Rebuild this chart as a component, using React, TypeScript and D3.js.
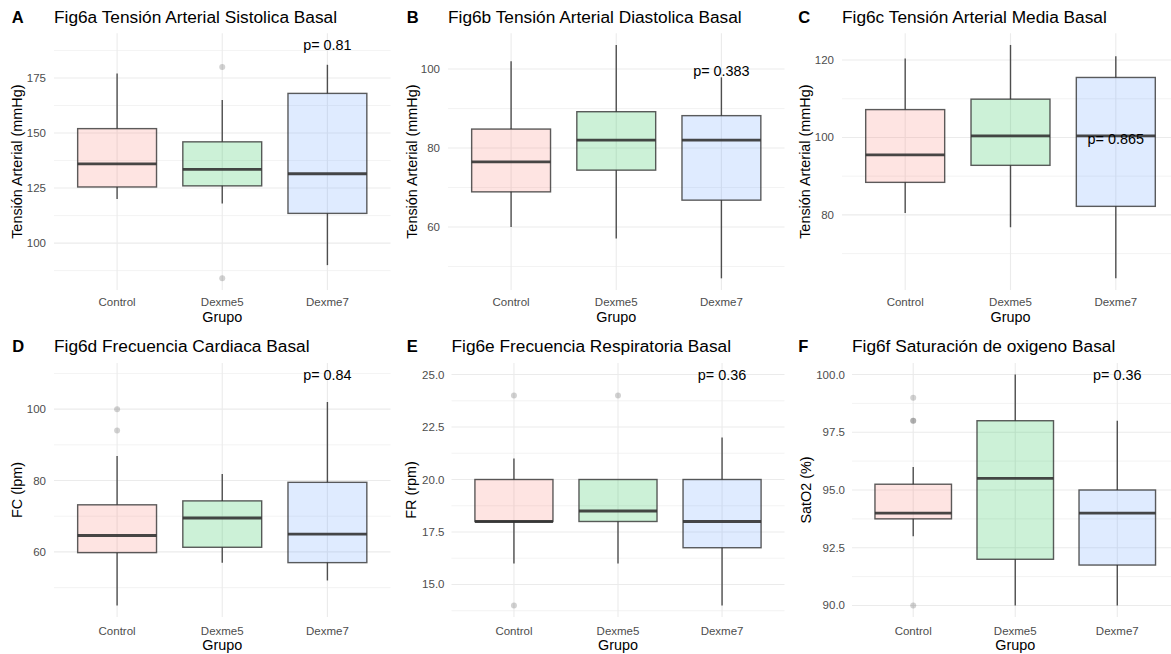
import React, { useEffect } from "react";
import * as d3 from "d3";

// Groups and their hues (ggplot default 3-colour palette)
const groups = ["Control", "Dexme5", "Dexme7"];
const hues = ["#F8766D", "#00BA38", "#619CFF"];

const tags = ["A", "B", "C", "D", "E", "F"];
const titles = [
  "Fig6a Tensión Arterial Sistolica Basal",
  "Fig6b Tensión Arterial Diastolica Basal",
  "Fig6c Tensión Arterial Media Basal",
  "Fig6d Frecuencia Cardiaca Basal",
  "Fig6e Frecuencia Respiratoria Basal",
  "Fig6f Saturación de oxigeno Basal",
];
const yTitles = [
  "Tensión Arterial (mmHg)",
  "Tensión Arterial (mmHg)",
  "Tensión Arterial (mmHg)",
  "FC (lpm)",
  "FR (rpm)",
  "SatO2 (%)",
];
const xTitle = "Grupo";

// Kruskal-Wallis p-values and where they sit on each y scale
const pLabels = ["p= 0.81", "p= 0.383", "p= 0.865", "p= 0.84", "p= 0.36", "p= 0.36"];
const pLabelY = [190, 99.6, 99.7, 109.7, 25, 100];

// Box summaries per group: [lower whisker, Q1, median, Q3, upper whisker]
const statsA = [[120, 125.5, 136, 152, 177], [118, 126, 133.5, 146, 165], [90, 113.5, 131.5, 168, 181]];
const statsB = [[60, 68.9, 76.5, 84.8, 102], [57.1, 74.4, 82, 89.2, 106.1], [47, 66.8, 82, 88.2, 97.9]];
const statsC = [[80.5, 88.4, 95.5, 107.2, 120.4], [76.8, 92.8, 100.4, 109.9, 123.9], [63.6, 82.2, 100.4, 115.5, 121]];
const statsD = [[45, 59.8, 64.6, 73.2, 86.9], [57, 61.3, 69.5, 74.3, 81.8], [52, 57, 65, 79.5, 102]];
const statsE = [[16, 18, 18, 20, 21], [16, 18, 18.5, 20, 20], [14, 16.75, 18, 20, 22]];
const statsF = [[93, 93.75, 94, 95.25, 96], [90, 92, 95.5, 98, 100], [90, 91.75, 94, 95, 98]];

// Outlying observations per group
const outliersA = [[], [180, 84], []];
const outliersB = [[], [], []];
const outliersC = [[], [], []];
const outliersD = [[100, 94], [], []];
const outliersE = [[24, 14], [24], []];
const outliersF = [[99, 98, 98, 90], [], []];

// Y-axis tick labels
const ticksA = ["100", "125", "150", "175"];
const ticksB = ["60", "80", "100"];
const ticksC = ["80", "100", "120"];
const ticksD = ["60", "80", "100"];
const ticksE = ["15.0", "17.5", "20.0", "22.5", "25.0"];
const ticksF = ["90.0", "92.5", "95.0", "97.5", "100.0"];

const panelStats = [statsA, statsB, statsC, statsD, statsE, statsF];
const panelOutliers = [outliersA, outliersB, outliersC, outliersD, outliersE, outliersF];
const panelTicks = [ticksA, ticksB, ticksC, ticksD, ticksE, ticksF];

// Panel geometry
const rows = [
  { y0: 33.3, y1: 290, titleBase: 23, tickBase: 306, xTitleBase: 322 },
  { y0: 363, y1: 617, titleBase: 351.5, tickBase: 634.5, xTitleBase: 650 },
];
const cols = [
  { x0: 54, x1: 390.5, tagX: 11.7, yTitleX: 17.3, gap: 8 },
  { x0: 448, x1: 784.5, tagX: 406.7, yTitleX: 411.7, gap: 8 },
  { x0: 842, x1: 1179, tagX: 798.3, yTitleX: 805, gap: 8 },
  { x0: 54, x1: 390.5, tagX: 12.3, yTitleX: 17.3, gap: 8 },
  { x0: 451.5, x1: 784.5, tagX: 406.7, yTitleX: 410.7, gap: 7 },
  { x0: 852, x1: 1178.5, tagX: 798.3, yTitleX: 806, gap: 7 },
];

const FONT = "'Liberation Sans', Arial, Helvetica, sans-serif";
const GRID = "#ebebeb";
const INK = "#333333";

function Panel({ i }: { i: number }) {
  const row = rows[Math.floor(i / 3)];
  const col = cols[i];
  const stats = panelStats[i];
  const outs = panelOutliers[i];
  const ticks = panelTicks[i];
  const tickVals = ticks.map((t) => +t);

  // data extent (whiskers, outliers, p label) with 5% expansion
  const vals: number[] = [pLabelY[i]];
  stats.forEach((s) => vals.push(s[0], s[4]));
  outs.forEach((o) => vals.push(...o));
  const [lo, hi] = d3.extent(vals) as [number, number];
  const pad = (hi - lo) * 0.05;
  const y = d3.scaleLinear().domain([lo - pad, hi + pad]).range([row.y1, row.y0]);
  const x = d3.scalePoint<string>().domain(groups).range([col.x0, col.x1]).padding(0.6);
  const step = x.step();
  const bw = step * 0.75;

  // minor breaks half-way between majors
  const d = tickVals[1] - tickVals[0];
  const minors: number[] = [];
  for (let k = -1; k < tickVals.length; k++) {
    const m = tickVals[0] + d * (k + 0.5);
    if (m >= y.domain()[0] && m <= y.domain()[1]) minors.push(m);
  }

  const yMid = (row.y0 + row.y1) / 2;
  return (
    <g>
      {/* grid */}
      {minors.map((m) => (
        <line key={"mn" + m} x1={col.x0} x2={col.x1} y1={y(m)} y2={y(m)} stroke={GRID} strokeWidth={0.6} />
      ))}
      {tickVals.map((t) => (
        <line key={"mj" + t} x1={col.x0} x2={col.x1} y1={y(t)} y2={y(t)} stroke={GRID} strokeWidth={1.1} />
      ))}
      {groups.map((g) => (
        <line key={"vg" + g} x1={x(g)} x2={x(g)} y1={row.y0} y2={row.y1} stroke={GRID} strokeWidth={1.1} />
      ))}

      {/* y tick labels */}
      {ticks.map((t, k) => (
        <text key={"yt" + t} x={col.x0 - col.gap} y={y(tickVals[k])} dy="0.35em" textAnchor="end"
          fontSize={11.5} fill="#4d4d4d" fontFamily={FONT}>{t}</text>
      ))}

      {/* boxplots */}
      {groups.map((g, gi) => {
        const s = stats[gi];
        const cx = x(g) as number;
        return (
          <g key={"bx" + g}>
            {s[4] > s[3] && (
              <line x1={cx} x2={cx} y1={y(s[3])} y2={y(s[4])} stroke={INK} strokeOpacity={0.85} strokeWidth={1.4} />
            )}
            {s[0] < s[1] && (
              <line x1={cx} x2={cx} y1={y(s[1])} y2={y(s[0])} stroke={INK} strokeOpacity={0.85} strokeWidth={1.4} />
            )}
            <rect x={cx - bw / 2} y={y(s[3])} width={bw} height={y(s[1]) - y(s[3])}
              fill={hues[gi]} fillOpacity={0.2} stroke={INK} strokeOpacity={0.8} strokeWidth={1.4} />
            <line x1={cx - bw / 2} x2={cx + bw / 2} y1={y(s[2])} y2={y(s[2])} stroke={INK} strokeOpacity={0.9} strokeWidth={2.8} />
            {outs[gi].map((o, k) => (
              <circle key={k} cx={cx} cy={y(o)} r={3} fill={INK} fillOpacity={0.22} />
            ))}
          </g>
        );
      })}

      {/* p value */}
      <text x={x("Dexme7")} y={y(pLabelY[i])} dy="0.35em" textAnchor="middle" fontSize={14.4}
        fill="#000" fontFamily={FONT}>{pLabels[i]}</text>

      {/* x tick labels */}
      {groups.map((g) => (
        <text key={"xt" + g} x={x(g)} y={row.tickBase} textAnchor="middle" fontSize={11.5}
          fill="#4d4d4d" fontFamily={FONT}>{g}</text>
      ))}
      <text x={(col.x0 + col.x1) / 2} y={row.xTitleBase} textAnchor="middle" fontSize={14.4}
        fill="#000" fontFamily={FONT}>{xTitle}</text>

      {/* y title */}
      <text transform={`translate(${col.yTitleX},${yMid}) rotate(-90)`} dy="0.35em" textAnchor="middle"
        fontSize={14.4} fill="#000" fontFamily={FONT}>{yTitles[i]}</text>

      {/* tag + title */}
      <text x={col.tagX} y={row.titleBase} fontSize={16.5} fontWeight="bold" fill="#000" fontFamily={FONT}>{tags[i]}</text>
      <text x={col.x0} y={row.titleBase} fontSize={17.3} fill="#000" fontFamily={FONT}>{titles[i]}</text>
    </g>
  );
}

export default function App() {
  useEffect(() => {
    document.body.style.margin = "0";
  }, []);
  return (
    <svg width={1171} height={654} style={{ position: "fixed", left: 0, top: 0, background: "#fff", display: "block" }}>
      <rect width={1171} height={654} fill="#fff" />
      {tags.map((_, i) => (
        <Panel key={i} i={i} />
      ))}
    </svg>
  );
}
